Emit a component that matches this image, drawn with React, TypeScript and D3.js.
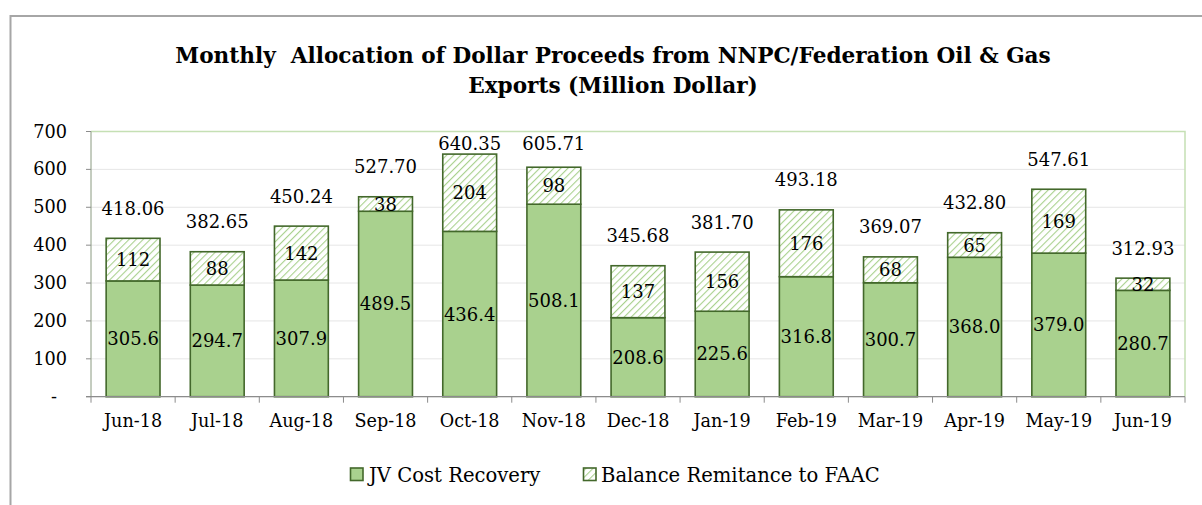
import React from "react";
import * as d3 from "d3";

const months = ["Jun-18","Jul-18","Aug-18","Sep-18","Oct-18","Nov-18","Dec-18","Jan-19","Feb-19","Mar-19","Apr-19","May-19","Jun-19"];
const jvCostRecovery = [305.6, 294.7, 307.9, 489.5, 436.4, 508.1, 208.6, 225.6, 316.8, 300.7, 368.0, 379.0, 280.7];
const balanceRemittance = [112.46, 87.95, 142.34, 38.2, 203.95, 97.61, 137.08, 156.1, 176.38, 68.37, 64.8, 168.61, 32.23];
const totals = [418.06, 382.65, 450.24, 527.70, 640.35, 605.71, 345.68, 381.70, 493.18, 369.07, 432.80, 547.61, 312.93];
const yTicks = [0, 100, 200, 300, 400, 500, 600, 700];
const titleLines = ["Monthly  Allocation of Dollar Proceeds from NNPC/Federation Oil & Gas", "Exports (Million Dollar)"];
const legendLabels = ["JV Cost Recovery", "Balance Remitance to FAAC"];

const W = 1202, H = 505;
const plot = { left: 91, right: 1185, top: 131.5, bottom: 396.7 };
const FONT = "'DejaVu Serif', serif";
const GREEN = "#A9D18E";
const DARK = "#43682B";

export default function App() {
  const x = d3.scaleBand<string>().domain(months).range([plot.left, plot.right]).paddingInner(0.36).paddingOuter(0.18);
  const y = d3.scaleLinear().domain([0, 700]).range([plot.bottom, plot.top]);
  const step = x.step();
  const bw = x.bandwidth();

  return (
    <svg width={W} height={H} style={{ position: "absolute", left: 0, top: 0, background: "#fff" }} xmlns="http://www.w3.org/2000/svg">
      <defs>
        <pattern id="hatch" patternUnits="userSpaceOnUse" width="5" height="5" patternTransform="rotate(45)">
          <rect width="5" height="5" fill="#fff" />
          <line x1="0" y1="0" x2="0" y2="5" stroke={GREEN} strokeWidth="2.2" />
        </pattern>
      </defs>
      <rect x={0} y={0} width={W} height={H} fill="#fff" />
      {/* outer border */}
      <path d={`M10.5,${H} L10.5,16 L${W},16`} fill="none" stroke="#a6a6a6" strokeWidth={2} />

      {/* title */}
      {titleLines.map((t, i) => (
        <text key={i} x={613} y={63 + i * 30} textAnchor="middle" fontFamily={FONT} fontWeight="bold" fontSize={21.6} fill="#000" style={{ whiteSpace: "pre" }}>{t}</text>
      ))}

      {/* gridlines */}
      {yTicks.map(t => (
        <line key={t} x1={plot.left} x2={plot.right} y1={y(t)} y2={y(t)} stroke="#e6e6e6" strokeWidth={1} />
      ))}
      {/* plot area border */}
      <path d={`M${plot.left},${plot.top} L${plot.right},${plot.top} L${plot.right},${plot.bottom}`} fill="none" stroke="#C5E0B4" strokeWidth={1.5} />

      {/* bars */}
      {months.map((m, i) => {
        const x0 = x(m)!;
        const jvTop = y(jvCostRecovery[i]);
        const balTop = y(jvCostRecovery[i] + balanceRemittance[i]);
        return (
          <g key={m}>
            <rect x={x0} y={jvTop} width={bw} height={plot.bottom - jvTop} fill={GREEN} stroke={DARK} strokeWidth={1.6} />
            <rect x={x0} y={balTop} width={bw} height={jvTop - balTop} fill="url(#hatch)" stroke={DARK} strokeWidth={1.6} />
          </g>
        );
      })}

      {/* axes */}
      <line x1={plot.left} x2={plot.left} y1={plot.top} y2={plot.bottom} stroke="#8a9a80" strokeWidth={1} />
      <line x1={plot.left - 5} x2={plot.right} y1={plot.bottom} y2={plot.bottom} stroke="#8c8c8c" strokeWidth={1.2} />
      {yTicks.map(t => (
        <line key={t} x1={plot.left - 5} x2={plot.left} y1={y(t)} y2={y(t)} stroke="#8c8c8c" strokeWidth={1} />
      ))}
      {d3.range(months.length + 1).map(i => (
        <line key={i} x1={plot.left + i * step} x2={plot.left + i * step} y1={plot.bottom} y2={plot.bottom + 6} stroke="#8c8c8c" strokeWidth={1} />
      ))}

      {/* y tick labels */}
      {yTicks.map(t => (
        t === 0
          ? <text key={t} x={54} y={y(t) + 6} textAnchor="middle" fontFamily={FONT} fontSize={17.7} fill="#000">-</text>
          : <text key={t} x={67} y={y(t) + 6} textAnchor="end" fontFamily={FONT} fontSize={17.7} fill="#000">{t}</text>
      ))}

      {/* x tick labels */}
      {months.map(m => (
        <text key={m} x={x(m)! + bw / 2} y={427} textAnchor="middle" fontFamily={FONT} fontSize={17.6} fill="#000">{m}</text>
      ))}

      {/* data labels */}
      {months.map((m, i) => {
        const cx = x(m)! + bw / 2;
        const jvTop = y(jvCostRecovery[i]);
        const balTop = y(jvCostRecovery[i] + balanceRemittance[i]);
        const totalY = Math.max(y(totals[i]) - 30, plot.top + 12);
        return (
          <g key={m} fontFamily={FONT} fontSize={18} fill="#000" textAnchor="middle">
            <text x={cx} y={(jvTop + plot.bottom) / 2 + 6.5}>{jvCostRecovery[i].toFixed(1)}</text>
            <text x={cx} y={(jvTop + balTop) / 2 + 6.5}>{Math.round(balanceRemittance[i])}</text>
            <text x={cx} y={totalY + 6.5}>{totals[i].toFixed(2)}</text>
          </g>
        );
      })}

      {/* legend */}
      <g fontFamily={FONT} fontSize={19.6} fill="#000">
        <rect x={350.5} y={468} width={12.5} height={12.5} fill={GREEN} stroke={DARK} strokeWidth={1.6} />
        <text x={369} y={481.5}>{legendLabels[0]}</text>
        <rect x={583.5} y={468} width={12.5} height={12.5} fill="url(#hatch)" stroke={DARK} strokeWidth={1.6} />
        <text x={601} y={481.5}>{legendLabels[1]}</text>
      </g>
    </svg>
  );
}
